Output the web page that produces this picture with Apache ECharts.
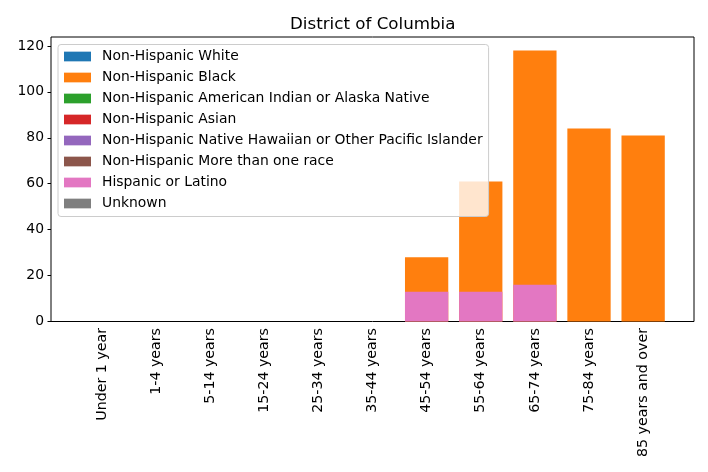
<!DOCTYPE html>
<html>
<head>
<meta charset="utf-8">
<script src="https://cdn.jsdelivr.net/npm/echarts@6/dist/echarts.min.js"></script>
<style>
  html, body { margin: 0; padding: 0; background: #fff; }
  #main { width: 708px; height: 472px; }
</style>
</head>
<body>
<div id="main"></div>
<script>
// age groups on the x axis
const ageGroups = ['Under 1 year', '1-4 years', '5-14 years', '15-24 years', '25-34 years',
  '35-44 years', '45-54 years', '55-64 years', '65-74 years', '75-84 years', '85 years and over']
const raceNames = ['Non-Hispanic White', 'Non-Hispanic Black', 'Non-Hispanic American Indian or Alaska Native',
  'Non-Hispanic Asian', 'Non-Hispanic Native Hawaiian or Other Pacific Islander',
  'Non-Hispanic More than one race', 'Hispanic or Latino', 'Unknown']
// values per race (bars overlap, not stacked)
const white = [0, 0, 0, 0, 0, 0, 0, 0, 0, 0, 0]
const black = [0, 0, 0, 0, 0, 0, 28, 61, 118, 84, 81]
const aian = [0, 0, 0, 0, 0, 0, 0, 0, 0, 0, 0]
const asian = [0, 0, 0, 0, 0, 0, 0, 0, 0, 0, 0]
const nhpi = [0, 0, 0, 0, 0, 0, 0, 0, 0, 0, 0]
const multi = [0, 0, 0, 0, 0, 0, 0, 0, 0, 0, 0]
const hispanic = [0, 0, 0, 0, 0, 0, 13, 13, 16, 0, 0]
const unknown = [0, 0, 0, 0, 0, 0, 0, 0, 0, 0, 0]
const yTicks = [0, 20, 40, 60, 80, 100, 120]

const colors = ['#1f77b4', '#ff7f0e', '#2ca02c', '#d62728', '#9467bd', '#8c564b', '#e377c2', '#7f7f7f']
const seriesData = [white, black, aian, asian, nhpi, multi, hispanic, unknown]
const yMax = 118 * 1.05
const font = 'DejaVu Sans'

const myChart = echarts.init(document.getElementById('main'), null, { renderer: 'canvas' })
const option = {
  animation: false,
  textStyle: { fontFamily: font },
  title: {
    text: 'District of Columbia',
    left: 290,
    top: 16,
    padding: 0,
    textStyle: { fontFamily: font, fontSize: 16.7, fontWeight: 'normal', color: '#000' }
  },
  legend: {
    data: raceNames,
    orient: 'vertical',
    left: 58,
    top: 44.5,
    padding: [1.5, 6, 2.5, 6],
    itemWidth: 27,
    itemHeight: 9.7,
    itemGap: 0,
    icon: 'rect',
    backgroundColor: 'rgba(255,255,255,0.8)',
    borderColor: '#cccccc',
    borderWidth: 1,
    borderRadius: 3,
    textStyle: { fontFamily: font, fontSize: 13.9, color: '#000', lineHeight: 21, padding: [0, 0, 0, 6] }
  },
  grid: [
    // frame + y axis
    { left: 51, right: 14, top: 37, bottom: 150.5, show: true, borderColor: '#000', borderWidth: 1, backgroundColor: 'transparent' },
    // bars, inset by the matplotlib margins
    { left: 74.8, right: 37.8, top: 37, bottom: 150.5 }
  ],
  xAxis: [
    { type: 'value', gridIndex: 0, show: false, min: 0, max: 1 },
    {
      type: 'category',
      gridIndex: 1,
      data: ageGroups,
      axisLine: { show: false },
      axisTick: { alignWithLabel: true, length: 3.5, lineStyle: { color: '#000' } },
      axisLabel: { rotate: 90, margin: 6.5, fontSize: 14.2, color: '#000', fontFamily: font, interval: 0 }
    }
  ],
  yAxis: [
    {
      type: 'value',
      gridIndex: 0,
      min: 0,
      max: yMax,
      axisLine: { show: false },
      splitLine: { show: false },
      axisTick: { show: true, length: 3.5, lineStyle: { color: '#000' }, customValues: yTicks },
      axisLabel: { margin: 7, fontSize: 13.9, color: '#000', fontFamily: font, customValues: yTicks }
    },
    { type: 'value', gridIndex: 1, min: 0, max: yMax, show: false, splitLine: { show: false } }
  ],
  series: raceNames.map((name, i) => ({
    name: name,
    type: 'bar',
    xAxisIndex: 1,
    yAxisIndex: 1,
    data: seriesData[i],
    barWidth: 43.3,
    barGap: '-100%',
    itemStyle: { color: colors[i] }
  }))
}
myChart.setOption(option)
</script>
</body>
</html>
